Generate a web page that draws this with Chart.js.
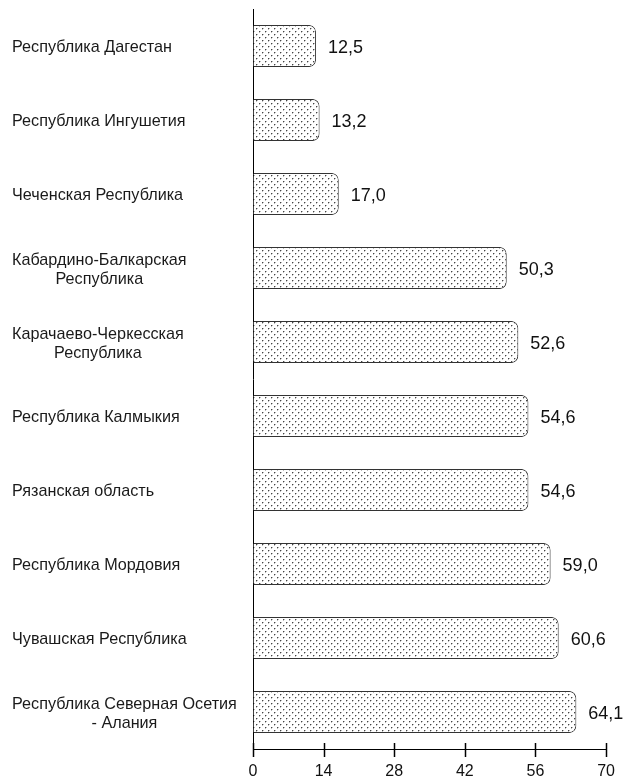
<!DOCTYPE html>
<html><head><meta charset="utf-8">
<script src="https://cdn.jsdelivr.net/npm/chart.js@4.4.0/dist/chart.umd.min.js"></script>
<style>html,body{margin:0;padding:0;background:#fff}#wrap{width:628px;height:781px}</style>
</head><body><div id="wrap"><canvas id="c" width="628" height="781"></canvas></div>
<script>
const categories = [
  ["Республика Дагестан"],
  ["Республика Ингушетия"],
  ["Чеченская Республика"],
  ["Кабардино-Балкарская", "Республика"],
  ["Карачаево-Черкесская", "Республика"],
  ["Республика Калмыкия"],
  ["Рязанская область"],
  ["Республика Мордовия"],
  ["Чувашская Республика"],
  ["Республика Северная Осетия", "- Алания"]
];
const values = [12.5, 13.2, 17.0, 50.3, 52.6, 54.6, 54.6, 59.0, 60.6, 64.1];
const xTicks = [0, 14, 28, 42, 56, 70];

const FONT = '"Liberation Sans", Arial, sans-serif';

function makePattern(){
  const p = document.createElement('canvas');
  p.width = 6; p.height = 6;
  const g = p.getContext('2d');
  g.fillStyle = '#fff'; g.fillRect(0,0,6,6);
  g.fillStyle = '#444';
  g.fillRect(1,1,1,1);
  g.fillRect(4,4,1,1);
  g.fillStyle = '#bbb';
  g.fillRect(2,1,1,1); g.fillRect(5,4,1,1);
  g.fillRect(1,2,1,1); g.fillRect(4,5,1,1);
  return document.getElementById('c').getContext('2d').createPattern(p,'repeat');
}

const decor = {
  id: 'decor',
  afterDraw(chart){
    const ctx = chart.ctx;
    const xs = chart.scales.x, ys = chart.scales.y;
    const area = chart.chartArea;
    ctx.save();
    ctx.strokeStyle = '#000'; ctx.lineWidth = 1.5;
    xTicks.forEach(v => {
      const px = Math.round(xs.getPixelForValue(v)) + 0.5;
      ctx.beginPath(); ctx.moveTo(px, area.bottom - 6); ctx.lineTo(px, area.bottom + 8); ctx.stroke();
    });
    const meta = chart.getDatasetMeta(0);
    ctx.fillStyle = '#111';
    ctx.font = '18px ' + FONT;
    ctx.textAlign = 'left'; ctx.textBaseline = 'middle';
    meta.data.forEach((bar, i) => {
      ctx.fillText(values[i].toFixed(1).replace('.', ','), bar.x + 12, bar.y + 2);
    });
    ctx.font = '16.2px ' + FONT;
    ctx.fillStyle = '#1a1a1a';
    const lh = 18.5;
    categories.forEach((lines, i) => {
      const cy = ys.getPixelForValue(i) + 2;
      const widths = lines.map(l => ctx.measureText(l).width);
      const maxW = Math.max(...widths);
      const left = 12;
      const y0 = cy - (lines.length - 1) * lh / 2;
      lines.forEach((l, j) => {
        ctx.textAlign = 'center';
        ctx.fillText(l, left + maxW / 2, y0 + j * lh);
      });
    });
    ctx.restore();
  }
};

const chart = new Chart(document.getElementById('c'), {
  type: 'bar',
  data: {
    labels: categories,
    datasets: [{
      data: values,
      backgroundColor: makePattern(),
      borderColor: '#333',
      borderWidth: 1,
      borderSkipped: 'start',
      borderRadius: 7,
      barPercentage: 0.57,
      categoryPercentage: 1.0
    }]
  },
  options: {
    indexAxis: 'y',
    responsive: false,
    animation: false,
    devicePixelRatio: 1,
    layout: { padding: { top: 9, right: 20, left: 0, bottom: 0 } },
    plugins: { legend: { display: false }, tooltip: { enabled: false } },
    scales: {
      x: {
        min: 0, max: 70,
        afterBuildTicks(s){ s.ticks = xTicks.map(v => ({ value: v })); },
        afterFit(s){ s.height = 32; },
        grid: { display: true, drawOnChartArea: false, drawTicks: false },
        border: { display: true, color: '#000', width: 1 },
        ticks: { color: '#111', font: { family: FONT, size: 16 }, padding: 13, maxRotation: 0,
          callback: v => String(v) }
      },
      y: {
        afterFit(s){ s.width = 253; },
        grid: { display: false, drawTicks: false },
        border: { display: true, color: '#000', width: 1 },
        ticks: { display: false }
      }
    }
  },
  plugins: [decor]
});
</script></body></html>
